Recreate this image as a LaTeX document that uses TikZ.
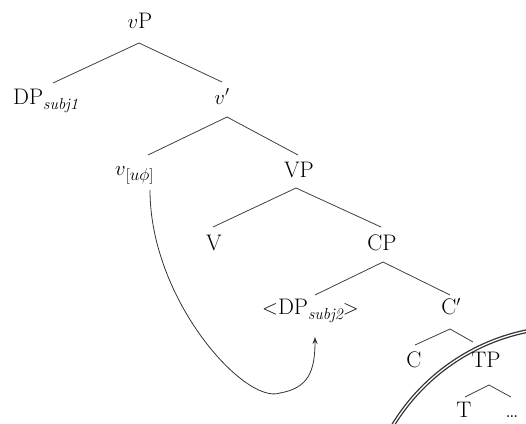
\documentclass[tikz,border=0pt]{standalone}
\usetikzlibrary{arrows.meta}
\newcommand{\sbs}[1]{\raisebox{-5pt}{\fontsize{16}{18}\selectfont #1}}
\begin{document}
\begin{tikzpicture}[x=1pt,y=-1pt,
  lbl/.style={inner sep=0pt, font=\fontsize{22.5}{26}\selectfont, anchor=base},
  br/.style={draw=black!75, line width=0.8pt},
  mv/.style={draw=black!80, line width=0.8pt, -{Stealth[length=7pt,width=5pt]}}]
\useasboundingbox (0,0) rectangle (526,423);
\begin{scope}
\clip (0,0) rectangle (526,423);
\node[lbl] (vP) at (140,28) {$v$P};
\node[lbl, anchor=base west] (DP1) at (13,104) {DP\sbs{\itshape subj1}};
\node[lbl] (vb) at (222,104) {$v'$};
\node[lbl, anchor=base west] (vu) at (115,175) {$v$\sbs{[$u\phi$]}};
\node[lbl] (VP) at (299,177) {VP};
\node[lbl] (V) at (214,250) {V};
\node[lbl] (CP) at (382,250) {CP};
\node[lbl, anchor=base west] (DP2) at (262,314) {$<$DP\sbs{\itshape subj2}$>$};
\node[lbl] (Cb) at (451,314) {C$'$};
\node[lbl] (C) at (414,367) {C};
\node[lbl] (TP) at (486,367) {TP};
\node[lbl] (T) at (464,417) {T};
\node[lbl] (dots) at (512,417) {\ldots};

\coordinate (a0) at (139,43);
\coordinate (a1) at (227,117);
\coordinate (a2) at (296,188);
\coordinate (a3) at (383,262);
\coordinate (a4) at (450,329);
\coordinate (a5) at (489,385);

\draw[br] (a0) -- (53,83);
\draw[br] (a0) -- (222,82);
\draw[br] (a1) -- (148,155);
\draw[br] (a1) -- (298,155);
\draw[br] (a2) -- (213,227);
\draw[br] (a2) -- (381,227);
\draw[br] (a3) -- (315,295);
\draw[br] (a3) -- (450,295);
\draw[br] (a4) -- (415,345);
\draw[br] (a4) -- (473,342);
\draw[br] (a5) -- (465,397);
\draw[br] (a5) -- (511,397);

\coordinate (m0) at (150,190);
\coordinate (m1) at (280,393);
\coordinate (m2) at (315,337);
\draw[mv] (m0) .. controls (150,300) and (245,405) .. (m1) .. controls (308,388) and (315,372) .. (m2);

\draw[draw=black!80, line width=1.3pt, double=white, double distance=1.3pt] (568,532) circle (205);
\end{scope}
\end{tikzpicture}
\end{document}
